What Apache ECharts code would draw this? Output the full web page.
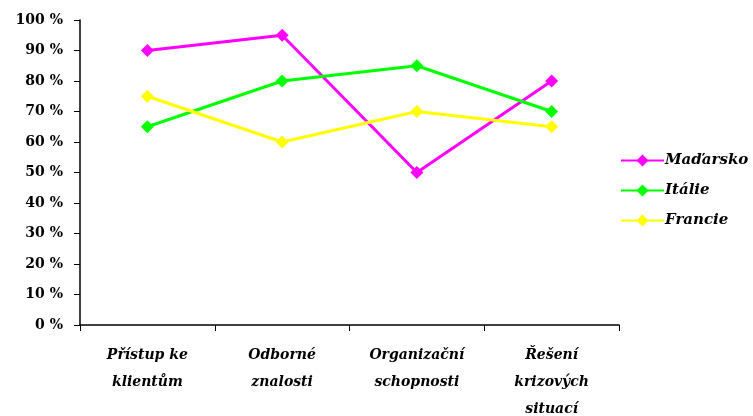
<!DOCTYPE html>
<html>
<head>
<meta charset="utf-8">
<script src="https://cdn.jsdelivr.net/npm/echarts@6/dist/echarts.min.js"></script>
<style>
  html, body { margin: 0; padding: 0; background: #fff; }
  #chart { width: 753px; height: 416px; }
</style>
</head>
<body>
<div id="chart"></div>
<script>
// Categories (skills) and per-country ratings, in percent
const categories = ['Přístup ke\nklientům', 'Odborné\nznalosti', 'Organizační\nschopnosti', 'Řešení\nkrizových\nsituací'];
const seriesNames = ['Maďarsko', 'Itálie', 'Francie'];
const madarsko = [90, 95, 50, 80];
const italie = [65, 80, 85, 70];
const francie = [75, 60, 70, 65];
const seriesColors = ['#ff00ff', '#00ff00', '#ffff00'];

const serif = '"DejaVu Serif", "Liberation Serif", serif';
const chart = echarts.init(document.getElementById('chart'));

function lineSeries(name, data, color) {
  return {
    name: name,
    type: 'line',
    data: data,
    symbol: 'diamond',
    symbolSize: 13,
    lineStyle: { color: color, width: 3 },
    itemStyle: { color: color },
    emphasis: { disabled: true },
    animation: false
  };
}

chart.setOption({
  animation: false,
  backgroundColor: '#ffffff',
  grid: { left: 80, right: 134, top: 20, bottom: 91, containLabel: false, outerBoundsMode: 'none' },
  legend: {
    orient: 'vertical',
    left: 615,
    top: 148,
    itemGap: 15,
    itemWidth: 43,
    itemHeight: 15,
    data: seriesNames,
    textStyle: { fontFamily: serif, fontSize: 15, fontStyle: 'italic', fontWeight: 'bold', color: '#000', padding: [0, 0, 0, -4] }
  },
  xAxis: {
    type: 'category',
    data: categories,
    boundaryGap: true,
    axisLine: { lineStyle: { color: '#000', width: 1.5 } },
    axisTick: { show: true, length: 6, lineStyle: { color: '#000' } },
    axisLabel: {
      interval: 0,
      margin: 17,
      fontFamily: serif,
      fontSize: 14,
      fontStyle: 'italic',
      fontWeight: 'bold',
      color: '#000',
      lineHeight: 27
    },
    splitLine: { show: false }
  },
  yAxis: {
    type: 'value',
    min: 0,
    max: 100,
    interval: 10,
    axisLine: { show: true, lineStyle: { color: '#000', width: 1.5 } },
    axisTick: { show: true, length: 6, lineStyle: { color: '#000' } },
    axisLabel: {
      formatter: '{value} %',
      margin: 17,
      fontFamily: serif,
      fontSize: 14,
      fontWeight: 'bold',
      color: '#000',
      padding: [4, 0, 0, 0]
    },
    splitLine: { show: false }
  },
  series: [
    lineSeries(seriesNames[0], madarsko, seriesColors[0]),
    lineSeries(seriesNames[1], italie, seriesColors[1]),
    lineSeries(seriesNames[2], francie, seriesColors[2])
  ]
});
</script>
</body>
</html>
